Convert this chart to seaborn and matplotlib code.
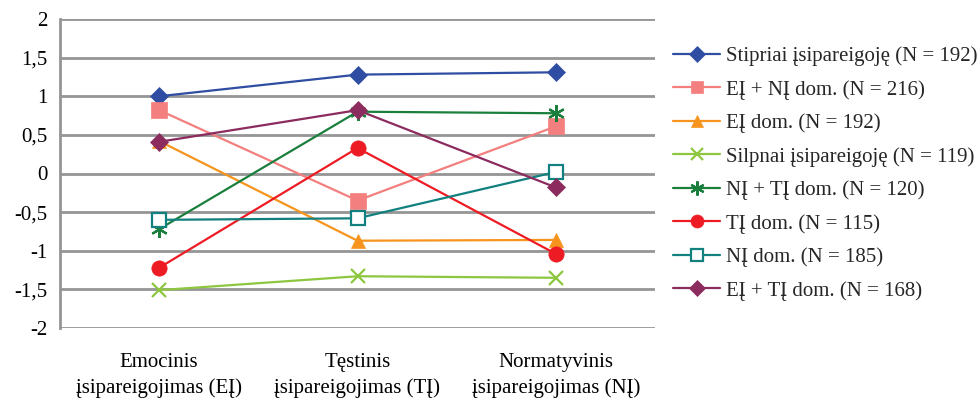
import matplotlib
matplotlib.use("Agg")
import matplotlib.pyplot as plt
import seaborn as sns
import pandas as pd

categories = ["Emocinis\nįsipareigojimas (EĮ)",
              "Tęstinis\nįsipareigojimas (TĮ)",
              "Normatyvinis\nįsipareigojimas (NĮ)"]

series_names = [
    "Stipriai įsipareigoję (N = 192)",
    "EĮ + NĮ dom. (N = 216)",
    "EĮ dom. (N = 192)",
    "Silpnai įsipareigoję (N = 119)",
    "NĮ + TĮ dom. (N = 120)",
    "TĮ dom. (N = 115)",
    "NĮ dom. (N = 185)",
    "EĮ + TĮ dom. (N = 168)",
]

stipriai = [1.00, 1.28, 1.31]
ei_ni = [0.82, -0.35, 0.61]
ei_dom = [0.42, -0.87, -0.86]
silpnai = [-1.51, -1.33, -1.35]
ni_ti = [-0.72, 0.80, 0.78]
ti_dom = [-1.22, 0.33, -1.04]
ni_dom = [-0.60, -0.58, 0.02]
ei_ti = [0.41, 0.82, -0.18]

series_values = [stipriai, ei_ni, ei_dom, silpnai, ni_ti, ti_dom, ni_dom, ei_ti]

y_ticks = [-2, -1.5, -1, -0.5, 0, 0.5, 1, 1.5, 2]
y_tick_labels = ["-2", "-1,5", "-1", "-0,5", "0", "0,5", "1", "1,5", "2"]

colors = ["#2F4EA3", "#F47F7F", "#F7941D", "#8DC63F",
          "#1A7F3C", "#ED1C24", "#138080", "#8B2B5E"]
markers = ["D", "s", "^", "x", (6, 2, 0), "o", "s", "D"]
marker_sizes = [9, 11, 10, 10, 12, 11, 10, 9]
filled = [True, True, True, False, False, True, False, True]

FS = 15

sns.set_theme(style="white")
plt.rcParams["font.family"] = ["Liberation Serif", "DejaVu Serif"]
plt.rcParams["font.size"] = FS

fig = plt.figure(figsize=(9.8, 4.0), dpi=100)
ax = fig.add_axes([60 / 980, 1 - 328 / 400, 595 / 980, 309 / 400])

x_pos = list(range(len(categories)))
for name, vals, c, m, ms, f in zip(series_names, series_values, colors,
                                   markers, marker_sizes, filled):
    df = pd.DataFrame({"x": x_pos, "y": vals})
    kw = dict(markerfacecolor=c if f else "white", markeredgecolor=c,
              markeredgewidth=1.6 if not f else 0.5)
    sns.lineplot(data=df, x="x", y="y", ax=ax, color=c, marker=m,
                 markersize=ms, linewidth=1.6, label=name, **kw)

ax.set_xlim(-0.5, 2.5)
ax.set_ylim(-2, 2)
ax.set_yticks(y_ticks)
ax.set_yticklabels(y_tick_labels)
ax.set_xticks(x_pos)
ax.set_xticklabels(categories, linespacing=1.45)
ax.set_xlabel("")
ax.set_ylabel("")

for y in y_ticks:
    ax.axhline(y, color="#959595", linewidth=2, zorder=0)

for side in ["top", "right", "bottom"]:
    ax.spines[side].set_visible(False)
ax.spines["left"].set_color("#959595")
ax.spines["left"].set_linewidth(2)

ax.tick_params(axis="y", length=5, width=1.5, color="#959595",
               direction="out", pad=4, labelsize=FS, labelcolor="black")
ax.tick_params(axis="x", length=0, pad=18, labelsize=FS, labelcolor="black")

ax.legend(loc="upper left", bbox_to_anchor=(663 / 980, 1 - 36 / 400),
          bbox_transform=fig.transFigure, frameon=False, borderpad=0,
          handlelength=2.25, handletextpad=0.25, labelspacing=0.66,
          markerscale=0.85, fontsize=FS)

fig.savefig("out.png", dpi=100)
